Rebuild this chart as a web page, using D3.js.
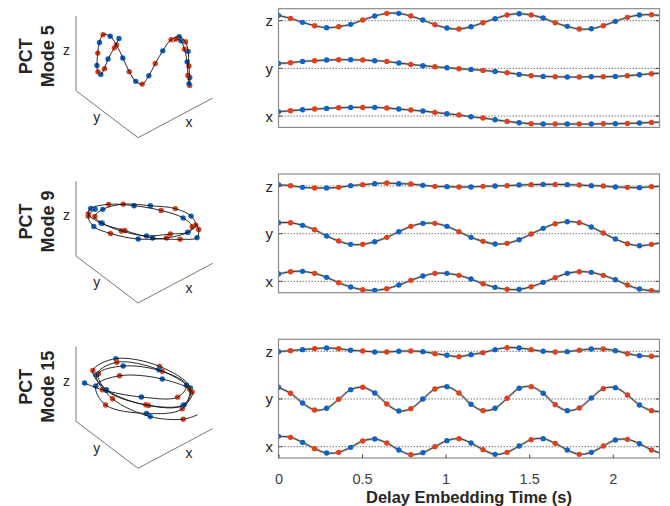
<!DOCTYPE html>
<html><head><meta charset="utf-8">
<script src="https://cdn.jsdelivr.net/npm/d3@7"></script>
<style>body{margin:0;background:#fff} svg{display:block;font-family:"Liberation Sans",Arial,sans-serif}</style>
</head><body><svg id="c" width="670" height="506"></svg>
<script>
// sample times (s); the last sample only continues the line past the final marker
const times = [0,0.072,0.144,0.216,0.288,0.36,0.432,0.504,0.576,0.648,0.72,0.792,0.864,0.936,1.008,1.08,1.152,1.224,1.296,1.368,1.44,1.512,1.584,1.656,1.728,1.8,1.872,1.944,2.016,2.088,2.16,2.232,2.304];
const nMarkers = 32;
const modeLabels = ["Mode 5","Mode 9","Mode 15"];
const axisNames = ["x","y","z"];
const xTicks = [0,0.5,1,1.5,2];
const xTickLabels = ["0","0.5","1","1.5","2"];
const xLabel = "Delay Embedding Time (s)";

// PCT mode components (arbitrary units)
const m5x = [13,16,19,21,23,25,26,26,26,24,21,18,15,11,7,3,-2,-6,-11,-16,-20,-23,-24,-24,-24,-24,-24,-23,-23,-22,-21,-19,-18];
const m5y = [15,17,21,23,25,26,26,25,23,21,16,12,8,5,2,-1,-3,-6,-9,-13,-18,-22,-24,-25,-26,-26,-25,-25,-24,-22,-19,-16,-14];
const m5z = [16,7,-5,-15,-21,-18,-11,2,14,22,22,14,2,-12,-22,-25,-18,-6,6,17,21,17,8,-6,-17,-25,-24,-15,-2,10,17,18,14];

const m9x = [22,29,30,24,12,-4,-17,-25,-27,-22,-11,3,16,24,24,18,7,-7,-18,-24,-24,-16,-3,11,24,29,27,18,5,-11,-23,-28,-30];
const m9y = [33,33,25,12,-7,-22,-32,-32,-24,-11,6,22,31,31,22,6,-11,-23,-31,-29,-18,-1,16,30,36,33,20,2,-16,-30,-36,-32,-26];
const m9z = [4,1,-4,-6,-6,-4,1,4,7,9,7,6,2,-1,-2,-3,-3,-1,0,1,3,4,5,5,4,3,1,0,-3,-4,-5,-2,-1];

const m15x = [31,28,13,-6,-19,-17,-2,17,23,11,-10,-24,-18,0,18,24,11,-9,-23,-17,2,21,24,10,-10,-23,-17,2,20,22,9,-10,-22];
const m15y = [35,17,-12,-33,-28,-1,28,35,18,-15,-36,-29,0,30,37,18,-16,-35,-28,2,32,37,17,-17,-35,-27,3,31,34,12,-18,-35,-38];
const m15z = [-1,2,5,8,10,8,3,1,-2,-2,0,1,-1,-7,-12,-16,-10,-4,5,11,10,5,0,-2,-1,3,7,7,2,-7,-13,-15,-15];

const modes = [
  {label: modeLabels[0], x: m5x, y: m5y, z: m5z},
  {label: modeLabels[1], x: m9x, y: m9y, z: m9z},
  {label: modeLabels[2], x: m15x, y: m15y, z: m15z}
];

const svg = d3.select("#c");
const blue = "#0d63c6", red = "#e0401c";
const colorOf = i => (i % 2 === 0 ? blue : red);
const textCol = "#262626";

const xs = d3.scaleLinear().domain([0, 2.28]).range([278.5, 659.5]);
const panelH = 118.7;
const panelTop = k => 8.7 + k * 165.3;
const offsets = {x: 0, y: 143, z: 286};
const yDomain = [-34, 322];

// 3D axes scales
const Lim = 37.5;
const s3x = d3.scaleLinear().domain([Lim, -Lim]).range([0, 1]);
const s3y = d3.scaleLinear().domain([-Lim, Lim]).range([0, 1]);
const s3z = d3.scaleLinear().domain([-Lim, Lim]).range([0, 1]);

modes.forEach((m, k) => {
  const top = panelTop(k);
  const g = svg.append("g");

  // ---------- left labels ----------
  const cy = top + 47.5;
  g.append("text").attr("transform", `translate(32,${cy}) rotate(-90)`)
    .attr("text-anchor", "middle").attr("font-size", 18).attr("font-weight", "bold")
    .attr("fill", textCol).text("PCT");
  g.append("text").attr("transform", `translate(53.5,${cy}) rotate(-90)`)
    .attr("text-anchor", "middle").attr("font-size", 18).attr("font-weight", "bold")
    .attr("fill", textCol).text(m.label);

  // ---------- 3D plot ----------
  const F = [138, top + 129], R = [212.7, top + 89.3], B = [76, top + 82], Zt = [76, top + 7.3];
  const ex = [R[0] - F[0], R[1] - F[1]], ey = [B[0] - F[0], B[1] - F[1]], ez = [0, Zt[1] - B[1]];
  const proj = (a, b, c) => {
    const u = s3x(a), v = s3y(b), w = s3z(c);
    return [F[0] + u * ex[0] + v * ey[0] + w * ez[0], F[1] + u * ex[1] + v * ey[1] + w * ez[1]];
  };
  g.append("path").attr("d", d3.line()([Zt, B, F, R]))
    .attr("fill", "none").attr("stroke", "#777").attr("stroke-width", 1);
  g.append("text").attr("x", 66.5).attr("y", top + 41.3).attr("dominant-baseline", "central")
    .attr("text-anchor", "middle").attr("font-size", 14).attr("fill", textCol).text("z");
  g.append("text").attr("x", 96.7).attr("y", top + 108.3).attr("dominant-baseline", "central")
    .attr("text-anchor", "middle").attr("font-size", 14).attr("fill", textCol).text("y");
  g.append("text").attr("x", 189).attr("y", top + 113.5).attr("dominant-baseline", "central")
    .attr("text-anchor", "middle").attr("font-size", 14).attr("fill", textCol).text("x");

  const pts3 = times.map((t, i) => proj(m.x[i], m.y[i], m.z[i]));
  g.selectAll(null).data(pts3.slice(0, nMarkers)).enter().append("circle")
    .attr("cx", d => d[0]).attr("cy", d => d[1]).attr("r", 2.7)
    .attr("fill", (d, i) => colorOf(i));
  g.append("path").attr("d", d3.line().curve(d3.curveCatmullRom.alpha(0.5))(pts3))
    .attr("fill", "none").attr("stroke", "#111").attr("stroke-width", 0.9);

  // ---------- time series panel ----------
  const ys = d3.scaleLinear().domain(yDomain).range([top + panelH, top]);
  const clipId = "clip" + k;
  svg.append("clipPath").attr("id", clipId).append("rect")
    .attr("x", xs.range()[0]).attr("y", top).attr("width", xs.range()[1] - xs.range()[0]).attr("height", panelH);
  const pg = g.append("g").attr("clip-path", `url(#${clipId})`);

  axisNames.forEach(name => {
    const off = offsets[name];
    pg.append("line").attr("x1", xs.range()[0]).attr("x2", xs.range()[1])
      .attr("y1", ys(off)).attr("y2", ys(off))
      .attr("stroke", "#555").attr("stroke-width", 0.8).attr("stroke-dasharray", "1.5,1.5");
    pg.append("line").attr("x1", xs.range()[0]).attr("x2", xs.range()[0] + 3.8)
      .attr("y1", ys(off)).attr("y2", ys(off)).attr("stroke", "#444").attr("stroke-width", 1);
    pg.append("line").attr("x1", xs.range()[1]).attr("x2", xs.range()[1] - 3.8)
      .attr("y1", ys(off)).attr("y2", ys(off)).attr("stroke", "#444").attr("stroke-width", 1);
  });

  axisNames.forEach(name => {
    const off = offsets[name];
    const vals = m[name];
    const data = times.map((t, i) => ({t, v: vals[i] + off, i}));
    const line = d3.line().x(d => xs(d.t)).y(d => ys(d.v)).curve(d3.curveCatmullRom.alpha(0.5));
    pg.append("path").attr("d", line(data)).attr("fill", "none")
      .attr("stroke", "#b5b5b5").attr("stroke-width", 2.4);
    pg.append("path").attr("d", line(data)).attr("fill", "none")
      .attr("stroke", "#2a2a2a").attr("stroke-width", 0.9);
    pg.selectAll(null).data(data.slice(0, nMarkers)).enter().append("circle")
      .attr("cx", d => xs(d.t)).attr("cy", d => ys(d.v)).attr("r", 2.7)
      .attr("fill", d => colorOf(d.i));
    g.append("text").attr("x", 273).attr("y", ys(off)).attr("dominant-baseline", "central")
      .attr("text-anchor", "end").attr("font-size", 15).attr("fill", textCol).text(name);
  });

  g.append("rect").attr("x", xs.range()[0]).attr("y", top)
    .attr("width", xs.range()[1] - xs.range()[0]).attr("height", panelH)
    .attr("fill", "none").attr("stroke", "#8a8a8a").attr("stroke-width", 1.2);

  if (k === modes.length - 1) {
    const bottom = top + panelH;
    const axis = d3.axisBottom(xs).tickValues(xTicks).tickFormat((d, i) => xTickLabels[i])
      .tickSizeInner(-3.5).tickSizeOuter(0).tickPadding(16);
    const ag = svg.append("g").attr("transform", `translate(0,${bottom})`).call(axis);
    ag.select(".domain").remove();
    ag.selectAll(".tick line").attr("stroke", "#444");
    ag.selectAll(".tick text").attr("font-size", 14.5).attr("fill", "#404040")
      .attr("font-family", '"Liberation Sans",Arial,sans-serif');
    svg.append("text").attr("x", (xs.range()[0] + xs.range()[1]) / 2).attr("y", 503)
      .attr("text-anchor", "middle").attr("font-size", 16.5).attr("font-weight", "bold")
      .attr("fill", textCol).text(xLabel);
  }
});
</script>
</body></html>
